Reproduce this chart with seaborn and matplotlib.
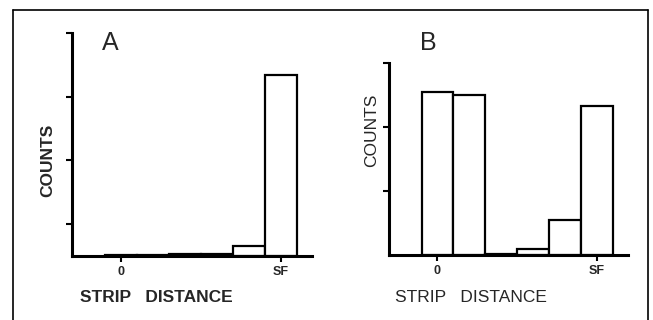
import numpy as np
import pandas as pd
import seaborn as sns
import matplotlib.pyplot as plt
from matplotlib.lines import Line2D

#---------------------------------------data-----------------------------------------------#
bins = [0, 1, 2, 3, 4, 5]
tick_pos = [0, 5]
tick_labels = ['0', 'SF']
counts_a = [0.02, 0.022, 0.025, 0.03, 0.16, 2.84]
counts_b = [2.55, 2.50, 0.02, 0.09, 0.55, 2.33]

sns.set_style('white')
plt.rcParams['font.family'] = ['Liberation Sans', 'DejaVu Sans']

W, H = 653, 320
fig = plt.figure(figsize=(W / 100, H / 100), dpi=100)

def px_axes(x0, y0, x1, y1):
    # pixel box (top-left origin) -> figure fraction
    return fig.add_axes([x0 / W, 1 - y1 / H, (x1 - x0) / W, (y1 - y0) / H])

ax_a = px_axes(72, 33, 312, 256)
ax_b = px_axes(389, 63, 628, 255)

#----panels----#
panels = [
    (ax_a, counts_a, 3.5, [0.5, 1.5, 2.5, 3.5]),
    (ax_b, counts_b, 3.0, [1, 2, 3]),
]
for ax, vals, top, yt in panels:
    df = pd.DataFrame({'bin': bins, 'count': vals})
    sns.barplot(data=df, x='bin', y='count', ax=ax, color='white',
                edgecolor='black', linewidth=1.6, width=1.0, saturation=1)
    ax.set_xlim(-1.52, 5.98)
    ax.set_ylim(0, top)
    ax.set_xticks(tick_pos)
    ax.set_xticklabels(tick_labels, fontsize=9, fontweight='bold')
    ax.set_yticks(yt)
    ax.set_yticklabels([])
    ax.tick_params(axis='both', direction='out', length=4, width=1.5,
                   color='black', bottom=True, left=True, pad=3)
    for s in ['top', 'right']:
        ax.spines[s].set_visible(False)
    for s in ['left', 'bottom']:
        ax.spines[s].set_linewidth(2.2)
        ax.spines[s].set_color('black')
    ax.set_xlabel('')
    ax.set_ylabel('')

# panel letters, axis titles
fig.text(110 / W, 1 - 43 / H, 'A', fontsize=18, ha='center', va='center')
fig.text(428 / W, 1 - 43 / H, 'B', fontsize=18, ha='center', va='center')
fig.text(48 / W, 1 - 160 / H, 'COUNTS', fontsize=12.5, rotation=90,
         ha='center', va='center', fontweight='bold')
fig.text(372 / W, 1 - 130 / H, 'COUNTS', fontsize=12.5, rotation=90,
         ha='center', va='center')
fig.text(80 / W, 1 - 297 / H, 'STRIP   DISTANCE', fontsize=12.5,
         ha='left', va='center', fontweight='bold')
fig.text(395 / W, 1 - 297 / H, 'STRIP   DISTANCE', fontsize=12.5,
         ha='left', va='center')

# outer frame
for xs, ys in [([13, 13], [10, 320]), ([13, 648], [10, 10]), ([648, 648], [10, 320])]:
    fig.add_artist(Line2D([x / W for x in xs], [1 - y / H for y in ys],
                          color='black', linewidth=1.2))

fig.savefig('out.png', dpi=100)
